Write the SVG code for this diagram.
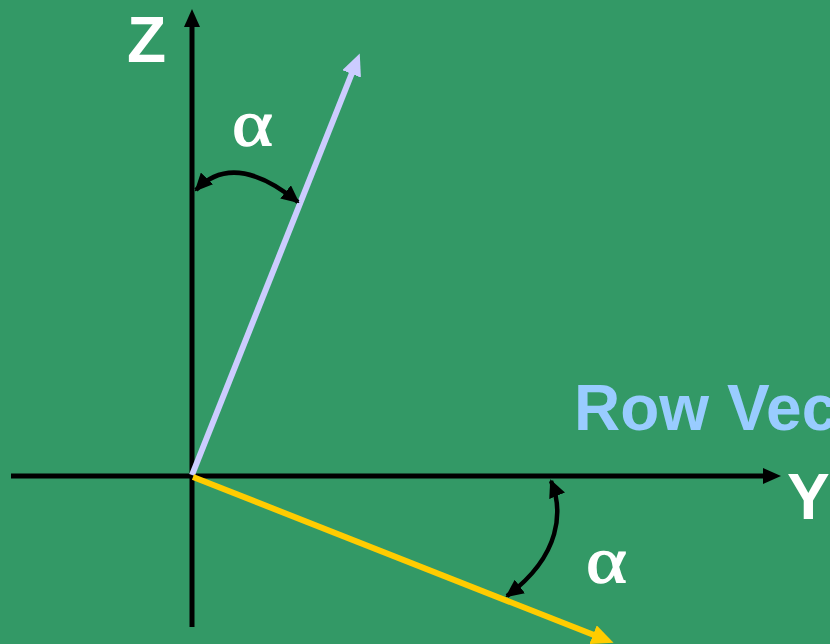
<svg xmlns="http://www.w3.org/2000/svg" width="830" height="644" viewBox="0 0 830 644">
  <style>
    .axis { stroke: #000000; stroke-width: 5; fill: none; }
    .arc { stroke: #000000; stroke-width: 4.5; fill: none; }
    .lbl { font-family: "Liberation Sans", Arial, sans-serif; font-weight: bold; font-size: 64px; }
    .greek { font-family: "Liberation Serif", "Times New Roman", serif; font-size: 66px; fill: #ffffff; stroke: #ffffff; stroke-width: 1.3; }
  </style>
  <defs>
    <marker id="headBlack" viewBox="0 0 18 16" refX="1" refY="8" markerWidth="18" markerHeight="16" markerUnits="userSpaceOnUse" orient="auto">
      <path d="M0,0 L18,8 L0,16 z" fill="#000000"/>
    </marker>
    <marker id="headLav" viewBox="0 0 22 20" refX="1" refY="10" markerWidth="22" markerHeight="20" markerUnits="userSpaceOnUse" orient="auto">
      <path d="M0,0 L22,10 L0,20 z" fill="#ccccff"/>
    </marker>
    <marker id="headYel" viewBox="0 0 22 20" refX="1" refY="10" markerWidth="22" markerHeight="20" markerUnits="userSpaceOnUse" orient="auto">
      <path d="M0,0 L22,10 L0,20 z" fill="#ffcc00"/>
    </marker>
    <marker id="headArc" viewBox="0 0 18 17" refX="16" refY="8.5" markerWidth="18" markerHeight="17" markerUnits="userSpaceOnUse" orient="auto-start-reverse">
      <path d="M0,0 L18,8.5 L0,17 z" fill="#000000"/>
    </marker>
  </defs>
  <rect x="0" y="0" width="830" height="644" fill="#339966"/>

  <g id="axes">
    <line id="z-axis" class="axis" x1="192" y1="627" x2="192" y2="26" marker-end="url(#headBlack)"/>
    <line id="y-axis" class="axis" x1="11" y1="476" x2="764" y2="476" marker-end="url(#headBlack)"/>
  </g>

  <g id="vectors">
    <line id="lavender-vector" x1="192" y1="475" x2="352" y2="73" stroke="#ccccff" stroke-width="6" marker-end="url(#headLav)"/>
    <line id="row-vector" x1="193" y1="477" x2="594" y2="635" stroke="#ffcc00" stroke-width="6" marker-end="url(#headYel)"/>
  </g>

  <g id="angles">
    <path id="angle-top" class="arc" d="M196,190 Q234,150 298,202" marker-start="url(#headArc)" marker-end="url(#headArc)"/>
    <path id="angle-bottom" class="arc" d="M551,481 C563,510 562,555 507,596" marker-start="url(#headArc)" marker-end="url(#headArc)"/>
  </g>

  <g id="labels">
    <text id="label-z" class="lbl" x="127" y="62" fill="#ffffff">Z</text>
    <text id="label-y" class="lbl" x="787" y="519" fill="#ffffff">Y</text>
    <text id="label-row" class="lbl" x="574" y="430" fill="#99ccff">Row Vec</text>
    <text id="alpha-top" class="greek" transform="translate(232,145) scale(1.18,1)" x="0" y="0">α</text>
    <text id="alpha-bottom" class="greek" transform="translate(586,582) scale(1.18,1)" x="0" y="0">α</text>
  </g>
</svg>
